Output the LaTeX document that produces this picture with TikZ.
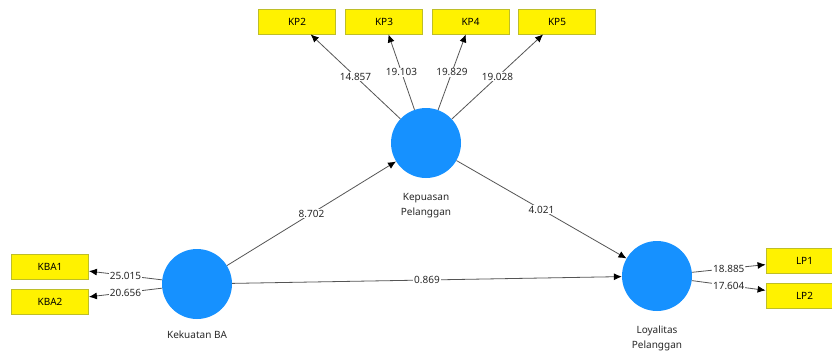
\documentclass[tikz,border=0pt]{standalone}
\usepackage{fontspec}
\setmainfont{Noto Sans}
\usetikzlibrary{arrows.meta}
\definecolor{plsblue}{RGB}{22,145,255}
\definecolor{boxborder}{RGB}{190,190,40}
\definecolor{linegray}{RGB}{85,85,85}
\definecolor{textgray}{RGB}{40,40,40}
\begin{document}
\begin{tikzpicture}[x=1pt,y=-1pt,
 lv/.style={circle,fill=plsblue,minimum size=70pt,inner sep=0pt},
 ind/.style={rectangle,draw=boxborder,line width=0.8pt,fill=yellow,minimum width=77pt,minimum height=25pt,inner sep=0pt,font=\fontsize{10}{12}\selectfont,text=black},
 conn/.style={draw=linegray,line width=0.8pt,-{Latex[length=8pt,width=7pt,color=black]}},
 val/.style={fill=white,inner sep=0.8pt,font=\fontsize{10}{12}\selectfont,text=textgray},
 lvcaption/.style={font=\fontsize{10}{15}\selectfont,align=center,text=textgray}]
\useasboundingbox (0,0) rectangle (832,354);
\fill[white] (0,0) rectangle (832,354);
% latent variables
\node[lv] (kp) at (426,143) {};
\node[lv] (kba) at (197,284) {};
\node[lv] (lp) at (657,276) {};
% indicators
\node[ind] (kp2) at (297,21.5) {KP2};
\node[ind] (kp3) at (384,21.5) {KP3};
\node[ind] (kp4) at (470.5,21.5) {KP4};
\node[ind] (kp5) at (557,21.5) {KP5};
\node[ind] (kba1) at (50,266.5) {KBA1};
\node[ind] (kba2) at (50,301.5) {KBA2};
\node[ind] (lp1) at (804.5,260.5) {LP1};
\node[ind] (lp2) at (804.5,295.5) {LP2};
% captions
\node[lvcaption] (kpcap) at (426,205.5) {Kepuasan\\Pelanggan};
\node[lvcaption] (kbacap) at (197,335) {Kekuatan BA};
\node[lvcaption] (lpcap) at (657,338) {Loyalitas\\Pelanggan};
% connectors
\draw[conn] (kp) -- node[val] {14.857} (kp2);
\draw[conn] (kp) -- node[val] {19.103} (kp3);
\draw[conn] (kp) -- node[val] {19.829} (kp4);
\draw[conn] (kp) -- node[val] {19.028} (kp5);
\draw[conn] (kba) -- node[val] {25.015} (kba1);
\draw[conn] (kba) -- node[val] {20.656} (kba2);
\draw[conn] (lp) -- node[val] {18.885} (lp1);
\draw[conn] (lp) -- node[val] {17.604} (lp2);
\draw[conn] (kba) -- node[val] {8.702} (kp);
\draw[conn] (kp) -- node[val] {4.021} (lp);
\draw[conn] (kba) -- node[val] {0.869} (lp);
\end{tikzpicture}
\end{document}
